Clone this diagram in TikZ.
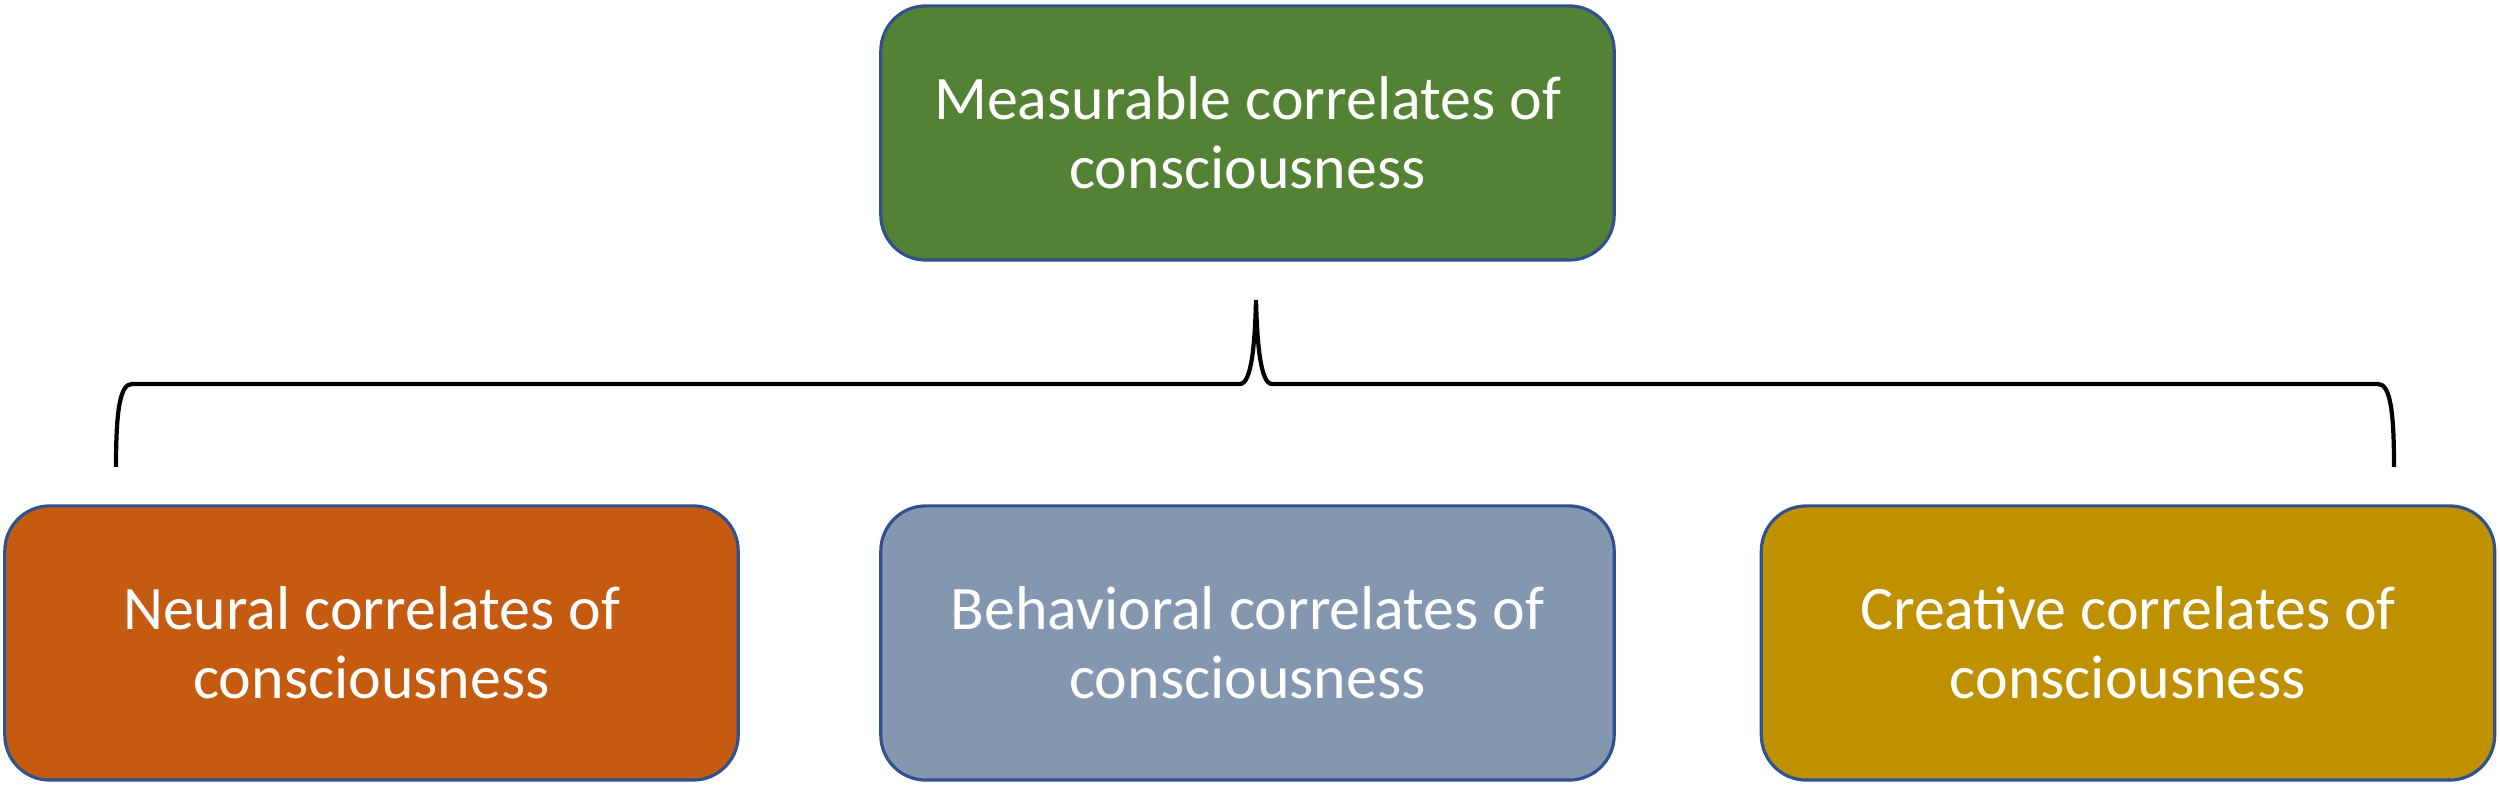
\documentclass[tikz,border=0pt]{standalone}
\usepackage{fontspec}
\setmainfont{Carlito}
\definecolor{bordblue}{HTML}{2F528F}
\definecolor{boxgreen}{HTML}{548235}
\definecolor{boxorange}{HTML}{C55A11}
\definecolor{boxgray}{HTML}{8497B0}
\definecolor{boxgold}{HTML}{BF9000}
\begin{document}
\begin{tikzpicture}[x=0.01cm,y=-0.01cm,
  cbox/.style={draw=bordblue,line width=0.9pt,rounded corners=0.45cm,
    minimum width=7.33cm,minimum height=2.74cm,align=center,text=white,
    font=\fontsize{17.6}{19.6}\selectfont,inner sep=0pt},
  bracestyle/.style={draw=black,line width=1.2pt}]
\useasboundingbox (0,0) rectangle (2500,786);
\node[cbox,fill=boxgreen,minimum height=2.54cm] (top) at (1247.5,133) {Measurable correlates of\\consciousness};
\node[cbox,fill=boxorange] (neural) at (371.5,643) {Neural correlates of\\consciousness};
\node[cbox,fill=boxgray] (behav) at (1247.5,643) {Behavioral correlates of\\consciousness};
\node[cbox,fill=boxgold] (creat) at (2128,643) {Creative correlates of\\consciousness};
\coordinate (bl) at (116,467);
\coordinate (tip) at (1256,300);
\coordinate (br) at (2394,467);
\draw[bracestyle] (bl) .. controls (116,410) and (120,384) .. (132,384)
  -- (1240,384) .. controls (1252,384) and (1255,340) .. (tip)
  .. controls (1257,340) and (1260,384) .. (1272,384)
  -- (2378,384) .. controls (2390,384) and (2394,410) .. (br);
\end{tikzpicture}
\end{document}
